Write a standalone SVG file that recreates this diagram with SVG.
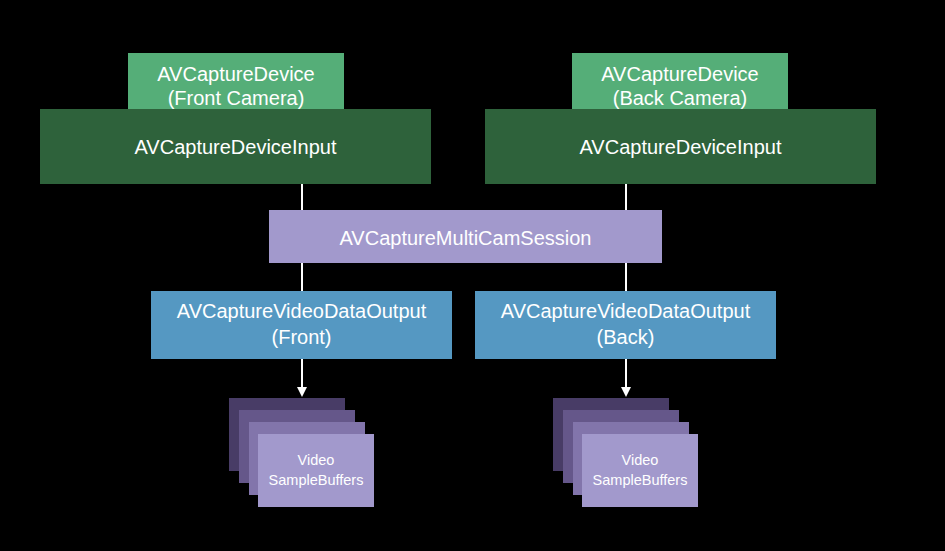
<svg xmlns="http://www.w3.org/2000/svg" width="945" height="551" viewBox="0 0 945 551">
<style>
text{font-family:"Liberation Sans",Arial,sans-serif;fill:#fff;text-anchor:middle}
.t{font-size:20px}
.s{font-size:14.5px}
.dev{fill:#55ae78}
.inp{fill:#2e623b}
.ses{fill:#a299cc}
.out{fill:#5598c2}
.b1{fill:#483c66}
.b2{fill:#65578a}
.b3{fill:#8275ab}
.b4{fill:#a299cc}
.ln{stroke:#fff;stroke-width:2;fill:none}
</style>
<rect width="945" height="551" fill="#000"/>
<g id="connectors">
<line class="ln" x1="302" y1="184" x2="302" y2="210"/>
<line class="ln" x1="626" y1="184" x2="626" y2="210"/>
<line class="ln" x1="302" y1="263" x2="302" y2="291"/>
<line class="ln" x1="626" y1="263" x2="626" y2="291"/>
<line class="ln" x1="302" y1="359" x2="302" y2="389"/>
<path d="M297,387 L307,387 L302,397 Z" fill="#fff"/>
<line class="ln" x1="626" y1="359" x2="626" y2="389"/>
<path d="M621,387 L631,387 L626,397 Z" fill="#fff"/>
</g>
<g id="input-front">
<rect class="inp" x="40" y="109" width="391" height="75"/>
<text class="t" x="235.5" y="154">AVCaptureDeviceInput</text>
</g>
<g id="device-front">
<rect class="dev" x="128" y="53" width="216" height="56"/>
<text class="t" x="236" y="81">AVCaptureDevice</text>
<text class="t" x="236" y="105">(Front Camera)</text>
</g>
<g id="input-back">
<rect class="inp" x="485" y="109" width="391" height="75"/>
<text class="t" x="680.5" y="154">AVCaptureDeviceInput</text>
</g>
<g id="device-back">
<rect class="dev" x="572" y="53" width="216" height="56"/>
<text class="t" x="680" y="81">AVCaptureDevice</text>
<text class="t" x="680" y="105">(Back Camera)</text>
</g>
<g id="session">
<rect class="ses" x="269" y="210" width="393" height="53"/>
<text class="t" x="465.5" y="245">AVCaptureMultiCamSession</text>
</g>
<g id="output-front">
<rect class="out" x="151" y="291" width="301" height="68"/>
<text class="t" x="301.5" y="318">AVCaptureVideoDataOutput</text>
<text class="t" x="301.5" y="344">(Front)</text>
</g>
<g id="output-back">
<rect class="out" x="475" y="291" width="301" height="68"/>
<text class="t" x="625.5" y="318">AVCaptureVideoDataOutput</text>
<text class="t" x="625.5" y="344">(Back)</text>
</g>
<g id="buffers-front">
<rect class="b1" x="229" y="398" width="116" height="73"/>
<rect class="b2" x="239" y="410" width="116" height="73"/>
<rect class="b3" x="249" y="422" width="116" height="73"/>
<rect class="b4" x="258" y="434" width="116" height="73"/>
<text class="s" x="316" y="465">Video</text>
<text class="s" x="316" y="485">SampleBuffers</text>
</g>
<g id="buffers-back">
<rect class="b1" x="553" y="398" width="116" height="73"/>
<rect class="b2" x="563" y="410" width="116" height="73"/>
<rect class="b3" x="573" y="422" width="116" height="73"/>
<rect class="b4" x="582" y="434" width="116" height="73"/>
<text class="s" x="640" y="465">Video</text>
<text class="s" x="640" y="485">SampleBuffers</text>
</g>
</svg>
